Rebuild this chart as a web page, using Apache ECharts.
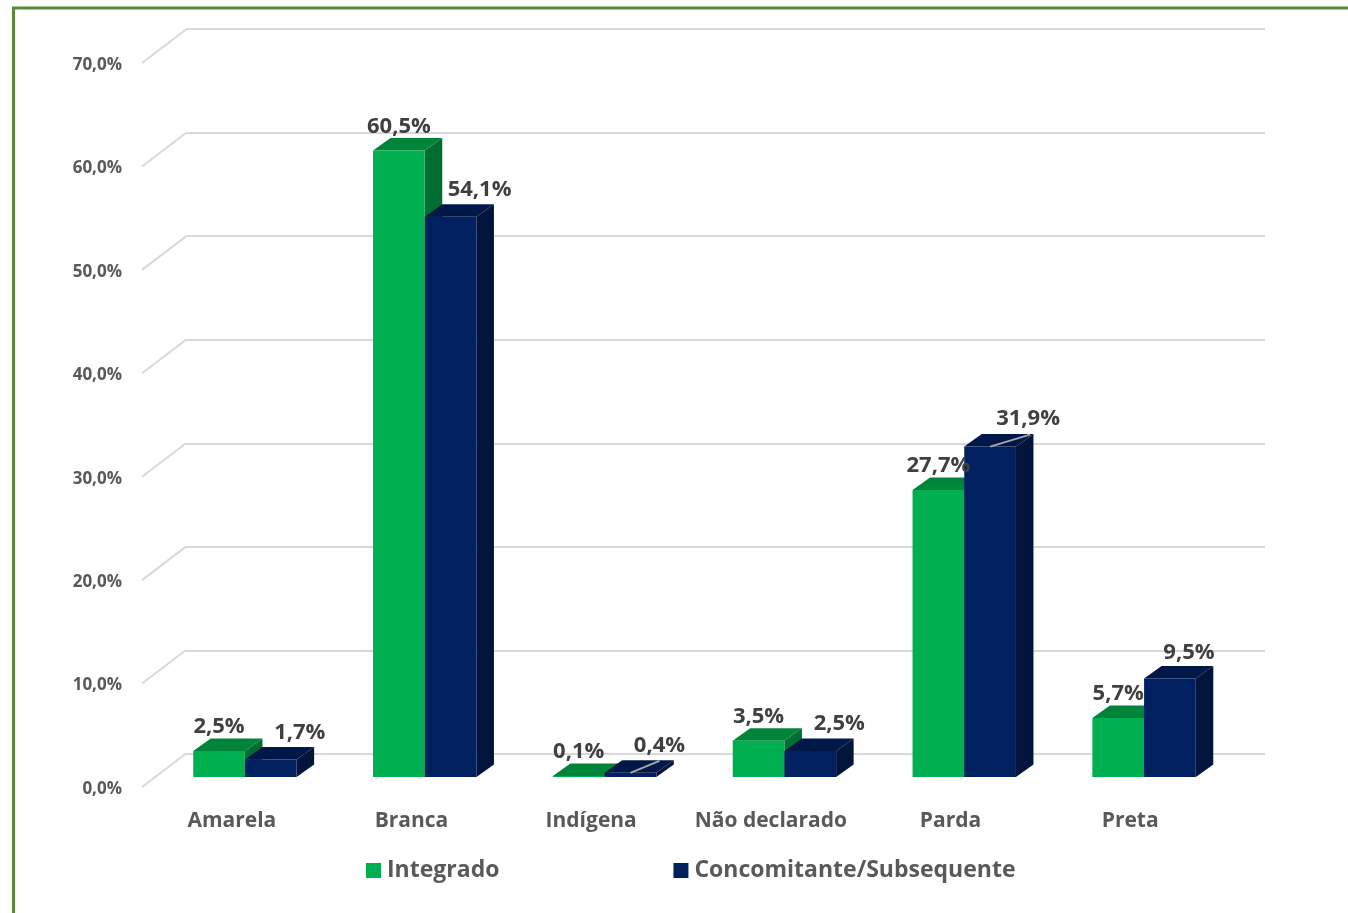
<!DOCTYPE html>
<html><head><meta charset="utf-8">
<style>html,body{margin:0;padding:0;background:#fff}#c{width:1348px;height:913px}</style>
<script src="https://cdn.jsdelivr.net/npm/echarts@6/dist/echarts.min.js"></script>
</head><body><div id="c"></div>
<script>
const categories = ['Amarela','Branca','Indígena','Não declarado','Parda','Preta'];
const integrado = [2.5,60.5,0.1,3.5,27.7,5.7];
const concomitante = [1.7,54.1,0.4,2.5,31.9,9.5];
const yTicks = [0,10,20,30,40,50,60,70];
const seriesNames = ['Integrado','Concomitante/Subsequente'];

const FONT = '"Open Sans", sans-serif';
const BAR_W = 51.7, DX = 17.5, DY = -12.5;
const fmt = v => v.toFixed(1).replace('.', ',') + '%';
const navyNudge = {4: [9, -1], 5: [-10, 1]};
const leaders = {2: [[0, 0], [29, -12]], 4: [[0, 0], [40, -12]]};

function barRender(cols, side) {
  return function (params, api) {
    const i = api.value(0), v = api.value(1);
    const c = api.coord([i, v]), b = api.coord([i, 0]);
    const x0 = side < 0 ? c[0] - BAR_W : c[0], x1 = x0 + BAR_W, yt = c[1], yb = b[1];
    const ch = [
      {type:'polygon', shape:{points:[[x1,yb],[x1+DX,yb+DY],[x1+DX,yt+DY],[x1,yt]]}, style:{fill:cols.side}},
      {type:'polygon', shape:{points:[[x0,yt],[x0+DX,yt+DY],[x1+DX,yt+DY],[x1,yt]]}, style:{fill:cols.top}},
      {type:'rect', shape:{x:x0,y:yt,width:BAR_W,height:yb-yt}, style:{fill:cols.front}}
    ];
    const mid = (x0 + x1) / 2;
    let lx = mid, ly = yt - 24;
    if (side > 0) {
      const n = navyNudge[i] || [0, 0];
      lx = mid + 29 + n[0]; ly = yt - 27 + n[1];
      if (leaders[i]) {
        const l = leaders[i];
        ch.push({type:'line', z2:5, shape:{x1:mid+l[0][0], y1:yt+l[0][1], x2:mid+l[1][0], y2:yt+l[1][1]},
          style:{stroke:'#a6a6a6', lineWidth:2}});
      }
    }
    ch.push({type:'text', z2:10, style:{x:lx, y:ly, text:fmt(v), align:'center', verticalAlign:'middle',
      fill:'#404040', font:'700 22px ' + FONT}});
    return {type:'group', children:ch};
  };
}

const chart = echarts.init(document.getElementById('c'), null, {renderer:'canvas'});
chart.setOption({
  animation:false,
  backgroundColor:'#fff',
  graphic:[{type:'rect', shape:{x:13.5,y:8,width:2000,height:2000}, style:{fill:'none',stroke:'#5b8a3a',lineWidth:3}, z:0}],
  legend:{
    left:366, top:859, padding:0, itemWidth:15, itemHeight:15, itemGap:174, icon:'rect',
    data:seriesNames,
    textStyle:{color:'#595959', fontFamily:FONT, fontWeight:700, fontSize:23, padding:[3,0,0,1]}
  },
  grid:[
    {left:142, top:65, width:1078, height:724},
    {left:186, top:29, width:1079, height:725},
    {left:155, top:52, width:1079, height:725}
  ],
  xAxis:[
    {gridIndex:0, type:'category', data:categories, axisLine:{show:false}, axisTick:{show:false},
     axisLabel:{margin:22, color:'#595959', fontFamily:FONT, fontWeight:700, fontSize:21, interval:0}},
    {gridIndex:1, type:'category', data:categories, show:false},
    {gridIndex:2, type:'category', data:categories, show:false}
  ],
  yAxis:[
    {gridIndex:0, type:'value', min:0, max:70, interval:10, splitLine:{show:false}, axisLine:{show:false}, axisTick:{show:false},
     axisLabel:{margin:20, color:'#595959', fontFamily:FONT, fontWeight:700, fontSize:17, formatter:v=>fmt(v)}},
    {gridIndex:1, type:'value', min:0, max:70, interval:10, axisLine:{show:false}, axisTick:{show:false}, axisLabel:{show:false},
     splitLine:{show:true, lineStyle:{color:'#d9d9d9', width:2}}},
    {gridIndex:2, type:'value', min:0, max:70, interval:10, show:false, splitLine:{show:false}}
  ],
  series:[
    {type:'custom', name:'wall', xAxisIndex:0, yAxisIndex:0, z:1, silent:true, data:yTicks.map(v=>[0,v]), encode:{x:0,y:1},
     renderItem:function(params, api){
       const y = api.coord([0, api.value(1)])[1] - 2, x = params.coordSys.x;
       return {type:'line', shape:{x1:x,y1:y,x2:x+44,y2:y-33.5}, style:{stroke:'#d9d9d9',lineWidth:2}};
     }},
    {type:'custom', name:seriesNames[0], xAxisIndex:2, yAxisIndex:2, z:3, itemStyle:{color:'#00B050'},
     data:integrado.map((v,i)=>[i,v]), encode:{x:0,y:1},
     renderItem:barRender({front:'#00B050', top:'#008439', side:'#006E30'}, -1)},
    {type:'custom', name:seriesNames[1], xAxisIndex:2, yAxisIndex:2, z:3, itemStyle:{color:'#002060'},
     data:concomitante.map((v,i)=>[i,v]), encode:{x:0,y:1},
     renderItem:barRender({front:'#002060', top:'#001848', side:'#00143C'}, 1)}
  ]
});
</script></body></html>
